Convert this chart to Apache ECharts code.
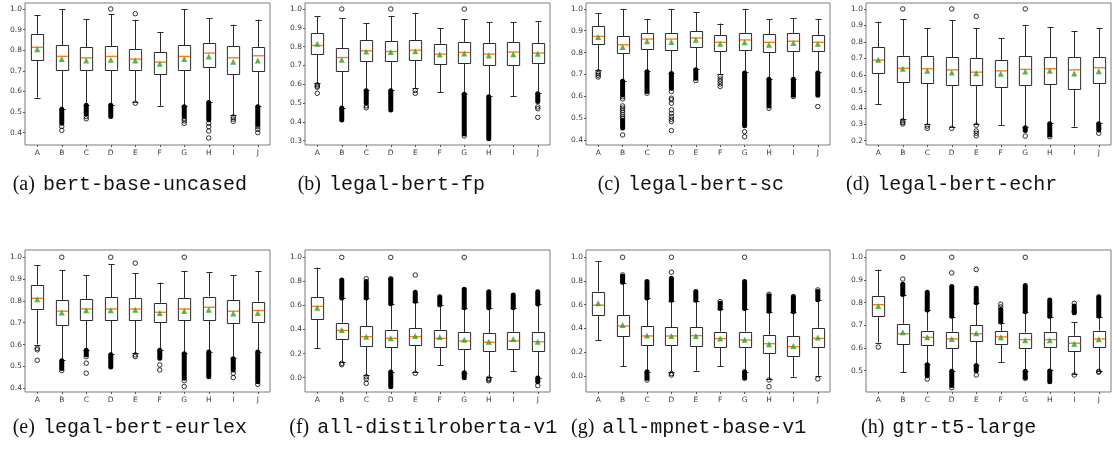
<!DOCTYPE html>
<html>
<head>
<meta charset="utf-8">
<script src="https://cdn.jsdelivr.net/npm/echarts@6/dist/echarts.min.js"></script>
<style>
  html, body { margin: 0; padding: 0; background: #fff; }
  #chart { width: 1115px; height: 450px; }
</style>
</head>
<body>
<div id="chart"></div>
<script>
// Query groups shared by every panel
const categories = ['A', 'B', 'C', 'D', 'E', 'F', 'G', 'H', 'I', 'J'];

// Panel captions
const captionTags = ['(a)', '(b)', '(c)', '(d)', '(e)', '(f)', '(g)', '(h)'];
const captionNames = ['bert-base-uncased', 'legal-bert-fp', 'legal-bert-sc', 'legal-bert-echr',
  'legal-bert-eurlex', 'all-distilroberta-v1', 'all-mpnet-base-v1', 'gtr-t5-large'];

// Y tick labels per panel
const ticksA = [0.4, 0.5, 0.6, 0.7, 0.8, 0.9, 1.0];
const ticksB = [0.3, 0.4, 0.5, 0.6, 0.7, 0.8, 0.9, 1.0];
const ticksC = [0.4, 0.5, 0.6, 0.7, 0.8, 0.9, 1.0];
const ticksD = [0.2, 0.3, 0.4, 0.5, 0.6, 0.7, 0.8, 0.9, 1.0];
const ticksE = [0.4, 0.5, 0.6, 0.7, 0.8, 0.9, 1.0];
const ticksF = [0.0, 0.2, 0.4, 0.6, 0.8, 1.0];
const ticksG = [0.0, 0.2, 0.4, 0.6, 0.8, 1.0];
const ticksH = [0.5, 0.6, 0.7, 0.8, 0.9, 1.0];

// Box statistics: [lower whisker, Q1, median, Q3, upper whisker]
// Means: one per group. Outliers: [group, value]. Dense outlier runs: [group, low, high]

// (a) bert-base-uncased
const bertBaseBoxes = [
  [0.570, 0.750, 0.814, 0.878, 0.971],
  [0.515, 0.703, 0.770, 0.825, 1.000],
  [0.535, 0.703, 0.763, 0.814, 0.951],
  [0.535, 0.703, 0.770, 0.818, 0.974],
  [0.551, 0.703, 0.757, 0.805, 0.948],
  [0.530, 0.684, 0.742, 0.791, 0.888],
  [0.527, 0.703, 0.770, 0.825, 1.000],
  [0.548, 0.716, 0.786, 0.833, 0.955],
  [0.485, 0.684, 0.763, 0.818, 0.924],
  [0.527, 0.697, 0.773, 0.814, 0.948]
];
const bertBaseMeans = [0.805, 0.757, 0.750, 0.754, 0.750, 0.734, 0.757, 0.770, 0.744, 0.750];
const bertBaseOutliers = [['B', 0.430], ['B', 0.411], ['C', 0.478], ['C', 0.467], ['D', 1.0],
  ['E', 0.977], ['E', 0.543], ['G', 0.467], ['G', 0.457], ['G', 0.445], ['H', 0.445], ['H', 0.429],
  ['H', 0.408], ['H', 0.374], ['I', 0.476], ['I', 0.466], ['I', 0.455], ['J', 0.429], ['J', 0.416], ['J', 0.400]];
const bertBaseBands = [['B', 0.445, 0.513], ['C', 0.490, 0.533], ['D', 0.478, 0.533],
  ['G', 0.478, 0.525], ['H', 0.462, 0.546], ['J', 0.440, 0.525]];

// (b) legal-bert-fp
const legalFpBoxes = [
  [0.606, 0.762, 0.806, 0.872, 0.963],
  [0.476, 0.670, 0.742, 0.794, 0.950],
  [0.567, 0.721, 0.778, 0.833, 0.925],
  [0.567, 0.721, 0.774, 0.828, 0.963],
  [0.579, 0.726, 0.781, 0.833, 0.979],
  [0.558, 0.707, 0.760, 0.815, 0.897],
  [0.549, 0.712, 0.769, 0.822, 0.945],
  [0.535, 0.703, 0.760, 0.819, 0.929],
  [0.538, 0.700, 0.771, 0.822, 0.929],
  [0.552, 0.712, 0.766, 0.819, 0.934]
];
const legalFpMeans = [0.815, 0.730, 0.774, 0.771, 0.776, 0.758, 0.764, 0.753, 0.760, 0.762];
const legalFpOutliers = [['A', 0.597], ['A', 0.590], ['A', 0.584], ['A', 0.552], ['B', 1.0],
  ['C', 0.485], ['C', 0.475], ['D', 1.0], ['E', 0.567], ['E', 0.552], ['G', 1.0], ['G', 0.325],
  ['J', 0.480], ['J', 0.470], ['J', 0.424]];
const legalFpBands = [['B', 0.410, 0.474], ['C', 0.500, 0.565], ['D', 0.463, 0.565],
  ['G', 0.335, 0.547], ['H', 0.310, 0.533], ['J', 0.508, 0.550]];

// (c) legal-bert-sc
const legalScBoxes = [
  [0.721, 0.839, 0.874, 0.920, 0.979],
  [0.671, 0.795, 0.836, 0.874, 1.000],
  [0.714, 0.816, 0.862, 0.890, 0.954],
  [0.706, 0.813, 0.862, 0.890, 1.000],
  [0.724, 0.825, 0.867, 0.897, 0.986],
  [0.703, 0.810, 0.847, 0.881, 0.933],
  [0.709, 0.813, 0.858, 0.890, 1.000],
  [0.680, 0.803, 0.847, 0.885, 0.954],
  [0.680, 0.806, 0.852, 0.890, 0.957],
  [0.709, 0.809, 0.847, 0.881, 0.954]
];
const legalScMeans = [0.871, 0.826, 0.852, 0.848, 0.859, 0.841, 0.847, 0.836, 0.844, 0.841];
const legalScOutliers = [['A', 0.712], ['A', 0.704], ['A', 0.696], ['A', 0.688],
  ['B', 0.598], ['B', 0.588], ['B', 0.556], ['B', 0.546], ['B', 0.536], ['B', 0.526], ['B', 0.516],
  ['B', 0.506], ['B', 0.498], ['B', 0.423], ['C', 0.614],
  ['D', 0.622], ['D', 0.591], ['D', 0.584], ['D', 0.568], ['D', 0.538], ['D', 0.522], ['D', 0.507],
  ['D', 0.495], ['D', 0.484], ['D', 0.443], ['E', 0.672],
  ['F', 0.691], ['F', 0.679], ['F', 0.668], ['F', 0.657], ['F', 0.645],
  ['G', 0.438], ['G', 0.415], ['H', 0.545], ['I', 0.599], ['J', 0.553]];
const legalScBands = [['B', 0.607, 0.669], ['B', 0.455, 0.490], ['C', 0.622, 0.712], ['D', 0.637, 0.704],
  ['E', 0.683, 0.722], ['G', 0.465, 0.707], ['H', 0.555, 0.678], ['I', 0.605, 0.678], ['J', 0.605, 0.707]];

// (d) legal-bert-echr
const legalEchrBoxes = [
  [0.423, 0.612, 0.689, 0.769, 0.923],
  [0.330, 0.559, 0.640, 0.716, 0.939],
  [0.301, 0.549, 0.637, 0.712, 0.882],
  [0.281, 0.535, 0.630, 0.706, 0.933],
  [0.300, 0.539, 0.616, 0.702, 0.882],
  [0.293, 0.525, 0.624, 0.687, 0.821],
  [0.281, 0.535, 0.633, 0.712, 0.903],
  [0.305, 0.543, 0.637, 0.708, 0.890],
  [0.285, 0.515, 0.630, 0.708, 0.864],
  [0.305, 0.549, 0.643, 0.706, 0.882]
];
const legalEchrMeans = [0.691, 0.637, 0.624, 0.614, 0.610, 0.606, 0.620, 0.624, 0.608, 0.622];
const legalEchrOutliers = [['B', 1.0], ['B', 0.320], ['B', 0.310], ['B', 0.302], ['C', 0.289], ['C', 0.275],
  ['D', 1.0], ['D', 0.275], ['E', 0.955], ['E', 0.294], ['E', 0.259], ['E', 0.245], ['E', 0.230],
  ['G', 1.0], ['G', 0.228], ['H', 0.224], ['J', 0.245]];
const legalEchrBands = [['G', 0.262, 0.279], ['H', 0.235, 0.303], ['J', 0.265, 0.303]];

// (e) legal-bert-eurlex
const legalEurlexBoxes = [
  [0.600, 0.763, 0.812, 0.873, 0.963],
  [0.528, 0.690, 0.753, 0.803, 0.940],
  [0.576, 0.713, 0.763, 0.808, 0.919],
  [0.556, 0.710, 0.763, 0.817, 0.968],
  [0.560, 0.710, 0.763, 0.811, 0.927],
  [0.576, 0.705, 0.748, 0.792, 0.884],
  [0.560, 0.710, 0.763, 0.812, 0.937],
  [0.568, 0.716, 0.771, 0.820, 0.931],
  [0.537, 0.698, 0.753, 0.802, 0.919],
  [0.568, 0.705, 0.756, 0.797, 0.937]
];
const legalEurlexMeans = [0.808, 0.747, 0.757, 0.757, 0.760, 0.745, 0.754, 0.760, 0.742, 0.745];
const legalEurlexOutliers = [['A', 0.583], ['A', 0.576], ['A', 0.528], ['B', 1.0], ['B', 0.481],
  ['C', 0.545], ['C', 0.515], ['C', 0.469], ['D', 1.0], ['E', 0.973], ['E', 0.553], ['E', 0.545],
  ['F', 0.507], ['F', 0.484], ['G', 1.0], ['G', 0.435], ['G', 0.408], ['I', 0.469], ['I', 0.449], ['J', 0.418]];
const legalEurlexBands = [['B', 0.490, 0.526], ['C', 0.553, 0.574], ['D', 0.497, 0.554], ['F', 0.537, 0.574],
  ['G', 0.446, 0.558], ['H', 0.453, 0.566], ['I', 0.484, 0.535], ['J', 0.430, 0.566]];

// (f) all-distilroberta-v1
const distilBoxes = [
  [0.244, 0.485, 0.593, 0.670, 0.914],
  [0.133, 0.327, 0.393, 0.457, 0.659],
  [0.022, 0.263, 0.341, 0.427, 0.659],
  [0.050, 0.255, 0.327, 0.399, 0.612],
  [0.050, 0.269, 0.341, 0.413, 0.632],
  [0.105, 0.260, 0.327, 0.399, 0.604],
  [0.042, 0.238, 0.305, 0.380, 0.579],
  [0.008, 0.222, 0.294, 0.368, 0.579],
  [0.055, 0.241, 0.305, 0.382, 0.579],
  [0.000, 0.227, 0.299, 0.382, 0.609]
];
const distilMeans = [0.582, 0.396, 0.341, 0.327, 0.346, 0.338, 0.316, 0.299, 0.321, 0.299];
const distilOutliers = [['B', 1.0], ['B', 0.119], ['B', 0.108], ['C', 0.823], ['C', 0.008], ['C', -0.011],
  ['C', -0.047], ['D', 1.0], ['D', 0.823], ['E', 0.853], ['E', 0.036], ['G', 1.0],
  ['H', -0.005], ['H', -0.015], ['H', -0.025], ['J', -0.066]];
const distilBands = [['B', 0.662, 0.812], ['C', 0.662, 0.800], ['D', 0.615, 0.815], ['D', -0.075, 0.048],
  ['E', 0.635, 0.709], ['F', 0.607, 0.673], ['G', 0.582, 0.734], ['G', 0.000, 0.040], ['H', 0.582, 0.715],
  ['I', 0.582, 0.687], ['J', 0.612, 0.715], ['J', -0.033, -0.003]];

// (g) all-mpnet-base-v1
const mpnetBoxes = [
  [0.301, 0.514, 0.596, 0.711, 0.969],
  [0.081, 0.331, 0.421, 0.511, 0.787],
  [0.037, 0.261, 0.337, 0.421, 0.654],
  [0.037, 0.261, 0.337, 0.410, 0.635],
  [0.045, 0.253, 0.340, 0.410, 0.635],
  [0.084, 0.244, 0.315, 0.374, 0.565],
  [0.037, 0.244, 0.303, 0.374, 0.565],
  [-0.025, 0.191, 0.272, 0.346, 0.542],
  [-0.006, 0.166, 0.247, 0.337, 0.537],
  [0.003, 0.244, 0.317, 0.407, 0.640]
];
const mpnetMeans = [0.612, 0.430, 0.340, 0.337, 0.337, 0.315, 0.306, 0.267, 0.253, 0.323];
const mpnetOutliers = [['B', 0.851], ['B', 1.0], ['C', -0.034], ['D', 0.874], ['D', 1.0], ['D', 0.020],
  ['D', 0.008], ['F', 0.626], ['G', 1.0], ['H', 0.688], ['H', -0.034], ['H', -0.090], ['J', 0.725], ['J', -0.025]];
const mpnetBands = [['B', 0.790, 0.840], ['C', 0.657, 0.795], ['C', -0.020, 0.035], ['D', 0.638, 0.823],
  ['E', 0.638, 0.711], ['F', 0.568, 0.612], ['G', 0.568, 0.795], ['G', -0.020, 0.035],
  ['H', 0.545, 0.675], ['I', 0.540, 0.669], ['J', 0.643, 0.712]];

// (h) gtr-t5-large
const gtrBoxes = [
  [0.624, 0.744, 0.791, 0.831, 0.946],
  [0.493, 0.621, 0.663, 0.707, 0.834],
  [0.528, 0.615, 0.647, 0.676, 0.766],
  [0.499, 0.603, 0.640, 0.672, 0.737],
  [0.525, 0.628, 0.663, 0.700, 0.797],
  [0.538, 0.618, 0.649, 0.675, 0.712],
  [0.500, 0.604, 0.637, 0.668, 0.757],
  [0.501, 0.604, 0.637, 0.672, 0.737],
  [0.484, 0.590, 0.621, 0.654, 0.713],
  [0.499, 0.607, 0.640, 0.676, 0.738]
];
const gtrMeans = [0.785, 0.669, 0.647, 0.640, 0.665, 0.647, 0.634, 0.634, 0.619, 0.638];
const gtrOutliers = [['A', 0.604], ['B', 0.904], ['B', 1.0], ['C', 0.463], ['D', 0.931], ['D', 1.0],
  ['D', 0.425], ['E', 0.946], ['E', 0.481], ['F', 0.781], ['F', 0.793], ['G', 1.0], ['G', 0.466],
  ['I', 0.797], ['I', 0.760], ['I', 0.481], ['J', 0.497], ['J', 0.493]];
const gtrBands = [['B', 0.836, 0.881], ['C', 0.768, 0.846], ['C', 0.478, 0.526], ['D', 0.740, 0.871],
  ['D', 0.435, 0.497], ['E', 0.800, 0.863], ['E', 0.500, 0.523], ['F', 0.715, 0.770], ['G', 0.760, 0.875],
  ['G', 0.470, 0.498], ['H', 0.740, 0.812], ['H', 0.451, 0.499], ['I', 0.755, 0.785], ['J', 0.741, 0.826]];

// Panel table built from the arrays above
const panels = [
  { boxes: bertBaseBoxes, means: bertBaseMeans, outliers: bertBaseOutliers, bands: bertBaseBands, ticks: ticksA },
  { boxes: legalFpBoxes, means: legalFpMeans, outliers: legalFpOutliers, bands: legalFpBands, ticks: ticksB },
  { boxes: legalScBoxes, means: legalScMeans, outliers: legalScOutliers, bands: legalScBands, ticks: ticksC },
  { boxes: legalEchrBoxes, means: legalEchrMeans, outliers: legalEchrOutliers, bands: legalEchrBands, ticks: ticksD },
  { boxes: legalEurlexBoxes, means: legalEurlexMeans, outliers: legalEurlexOutliers, bands: legalEurlexBands, ticks: ticksE },
  { boxes: distilBoxes, means: distilMeans, outliers: distilOutliers, bands: distilBands, ticks: ticksF },
  { boxes: mpnetBoxes, means: mpnetMeans, outliers: mpnetOutliers, bands: mpnetBands, ticks: ticksG },
  { boxes: gtrBoxes, means: gtrMeans, outliers: gtrOutliers, bands: gtrBands, ticks: ticksH }
];

// Grid placement, axis extents and caption anchors
const layout = [
  { left: 25,  top: 3,   width: 245, height: 142, min: 0.340, max: 1.029, capX: 12.7,  capY: 185 },
  { left: 305, top: 3,   width: 245, height: 142, min: 0.277, max: 1.032, capX: 297.7, capY: 185 },
  { left: 586, top: 3,   width: 244, height: 142, min: 0.377, max: 1.027, capX: 597.7, capY: 185 },
  { left: 866, top: 3,   width: 245, height: 142, min: 0.174, max: 1.036, capX: 846,   capY: 185 },
  { left: 25,  top: 250, width: 245, height: 142, min: 0.383, max: 1.033, capX: 12.7,  capY: 428 },
  { left: 305, top: 250, width: 245, height: 142, min: -0.119, max: 1.061, capX: 289.3, capY: 428 },
  { left: 586, top: 250, width: 244, height: 142, min: -0.135, max: 1.061, capX: 571,   capY: 428 },
  { left: 866, top: 250, width: 245, height: 142, min: 0.406, max: 1.032, capX: 861,   capY: 428 }
];

const LINE = '#2b2b2b';
const crisp = v => Math.round(v) + 0.5;

// Whiskers, caps, box and median for one group
function renderBox(params, api) {
  const i = api.value(0);
  const lo = api.coord([i, api.value(1)]);
  const q1 = api.coord([i, api.value(2)]);
  const md = api.coord([i, api.value(3)]);
  const q3 = api.coord([i, api.value(4)]);
  const hi = api.coord([i, api.value(5)]);
  const band = api.size([1, 0])[0];
  const bw = band * 0.5, cw = band * 0.25;
  const x = crisp(lo[0]);
  const s = { stroke: LINE, lineWidth: 1, fill: null };
  return {
    type: 'group',
    children: [
      { type: 'line', shape: { x1: x, y1: hi[1], x2: x, y2: q3[1] }, style: s },
      { type: 'line', shape: { x1: x, y1: q1[1], x2: x, y2: lo[1] }, style: s },
      { type: 'line', shape: { x1: x - cw / 2, y1: crisp(hi[1]), x2: x + cw / 2, y2: crisp(hi[1]) }, style: s },
      { type: 'line', shape: { x1: x - cw / 2, y1: crisp(lo[1]), x2: x + cw / 2, y2: crisp(lo[1]) }, style: s },
      { type: 'rect', shape: { x: x - bw / 2, y: crisp(q3[1]), width: bw, height: Math.round(q1[1] - q3[1]) },
        style: { stroke: LINE, lineWidth: 1, fill: '#fff' } },
      { type: 'line', shape: { x1: x - bw / 2 + 0.5, y1: md[1], x2: x + bw / 2 - 0.5, y2: md[1] },
        style: { stroke: '#ff7f0e', lineWidth: 1.4 } }
    ]
  };
}

// A run of overlapping outlier circles reads as a solid black column
function renderBand(params, api) {
  const c = api.value(0);
  const lo = api.coord([c, api.value(1)]);
  const hi = api.coord([c, api.value(2)]);
  const w = 5;
  return {
    type: 'rect',
    shape: { x: lo[0] - w / 2, y: hi[1] - w / 2, width: w, height: lo[1] - hi[1] + w, r: w / 2 },
    style: { fill: '#000' }
  };
}

const grid = [], xAxis = [], yAxis = [], series = [], graphic = [];
const labelFont = { fontFamily: 'DejaVu Sans', fontSize: 7.5, color: '#3a3a3a' };

panels.forEach((p, k) => {
  const L = layout[k];
  grid.push({ left: L.left, top: L.top, width: L.width, height: L.height,
    show: true, borderColor: '#7a7a7a', borderWidth: 1, backgroundColor: '#fff' });
  xAxis.push({
    type: 'category', gridIndex: k, data: categories, boundaryGap: true, position: 'bottom',
    axisLine: { show: false, onZero: false }, splitLine: { show: false },
    axisTick: { show: true, alignWithLabel: true, length: 2, lineStyle: { color: '#555' } },
    axisLabel: Object.assign({ margin: 4 }, labelFont)
  });
  yAxis.push({
    type: 'value', gridIndex: k, min: L.min, max: L.max,
    axisLine: { show: false, onZero: false }, splitLine: { show: false },
    axisTick: { show: true, length: 2, customValues: p.ticks, lineStyle: { color: '#555' } },
    axisLabel: Object.assign({ margin: 3, customValues: p.ticks, formatter: v => v.toFixed(1) }, labelFont)
  });
  series.push({
    type: 'custom', xAxisIndex: k, yAxisIndex: k, renderItem: renderBox, z: 2,
    encode: { x: 0, y: [1, 2, 3, 4, 5] },
    data: p.boxes.map((b, i) => [i].concat(b))
  });
  series.push({
    type: 'custom', xAxisIndex: k, yAxisIndex: k, renderItem: renderBand, z: 3,
    encode: { x: 0, y: [1, 2] },
    data: p.bands
  });
  series.push({
    type: 'scatter', xAxisIndex: k, yAxisIndex: k, z: 4, symbol: 'circle', symbolSize: 4.5,
    itemStyle: { color: 'rgba(255,255,255,0)', borderColor: '#000', borderWidth: 1 },
    data: p.outliers
  });
  series.push({
    type: 'scatter', xAxisIndex: k, yAxisIndex: k, z: 5, symbol: 'triangle', symbolSize: 6,
    itemStyle: { color: '#2ca02c' },
    data: p.means.map((m, i) => [i, m])
  });
  graphic.push({
    type: 'text', x: L.capX, y: L.capY, z: 10,
    style: {
      text: '{t|' + captionTags[k] + '}{n|' + captionNames[k] + '}',
      align: 'left', verticalAlign: 'middle',
      rich: {
        t: { fontFamily: 'Liberation Serif', fontSize: 20, fill: '#111', padding: [0, 8, 0, 0] },
        n: { fontFamily: 'Liberation Mono', fontSize: 20, fill: '#111' }
      }
    }
  });
});

const chart = echarts.init(document.getElementById('chart'), null, { renderer: 'canvas' });
chart.setOption({
  animation: false,
  backgroundColor: '#fff',
  grid, xAxis, yAxis, series, graphic
});
</script>
</body>
</html>
